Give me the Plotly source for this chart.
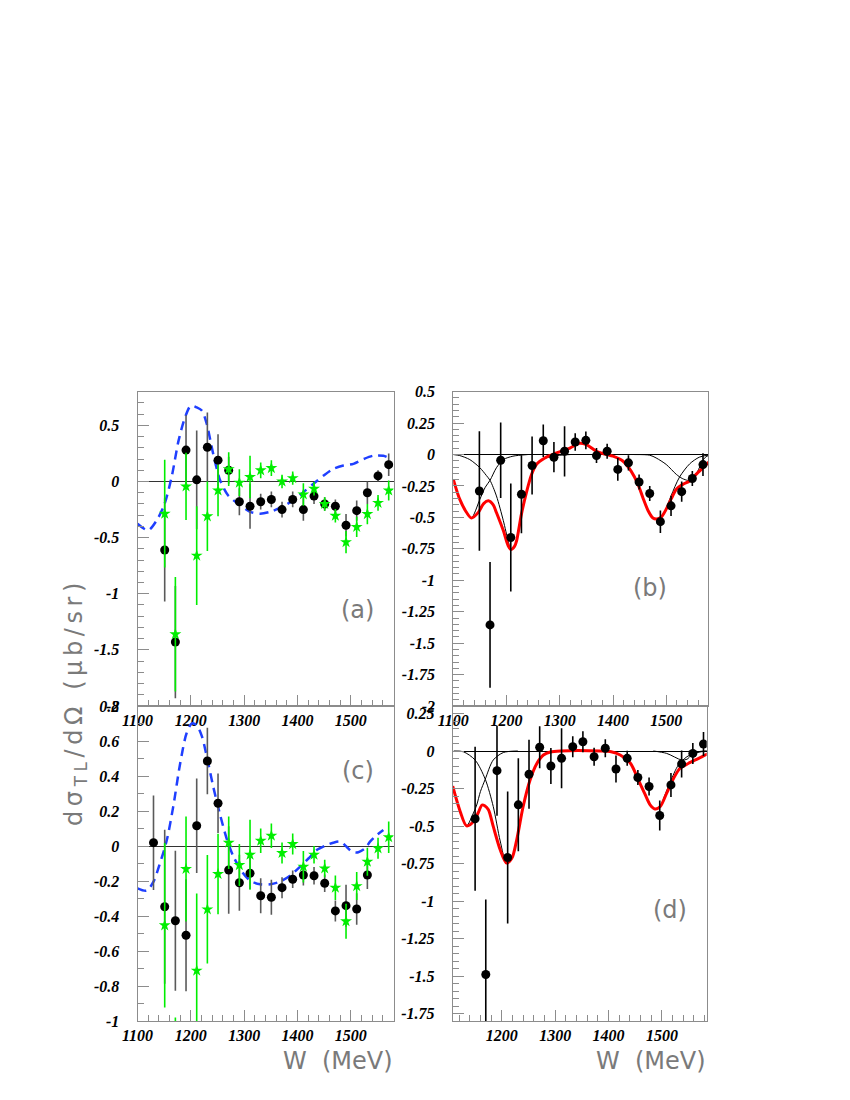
import plotly.graph_objects as go

# ---------------- data ----------------
# panel (a)
A_W = [1151, 1171, 1191, 1211, 1231, 1251, 1271, 1291, 1311, 1331, 1351,
       1371, 1391, 1411, 1431, 1451, 1471, 1491, 1511, 1531, 1551, 1571]
A_BLACK = [-0.61, -1.43, 0.28, 0.015, 0.305, 0.19, 0.10, -0.18, -0.22, -0.18, -0.16,
           -0.25, -0.16, -0.25, -0.13, -0.20, -0.22, -0.39, -0.26, -0.10, 0.05, 0.15]
A_BLACK_ERR = [0.46, 0.50, 0.31, 0.44, 0.31, 0.23, 0.12, 0.12, 0.20, 0.07, 0.07,
               0.07, 0.07, 0.10, 0.07, 0.06, 0.06, 0.10, 0.09, 0.10, 0.05, 0.10]
A_GREEN = [-0.287, -1.36, -0.044, -0.66, -0.31, -0.08, 0.11, -0.01, 0.04, 0.10, 0.12,
           0.0, 0.03, -0.115, -0.065, -0.20, -0.305, -0.54, -0.405, -0.29, -0.19, -0.08]
A_GREEN_ERR = [0.48, 0.51, 0.30, 0.44, 0.31, 0.23, 0.15, 0.12, 0.19, 0.07, 0.07,
               0.06, 0.06, 0.10, 0.06, 0.06, 0.06, 0.10, 0.09, 0.09, 0.07, 0.09]
A_CURVE_W = [1100, 1120, 1136, 1150, 1164, 1177, 1189, 1200, 1211, 1221, 1230, 1242,
             1255, 1270, 1292, 1311, 1330, 1349, 1370, 1392, 1411, 1430, 1449, 1467,
             1486, 1505, 1524, 1542, 1561, 1567]
A_CURVE = [-0.376, -0.435, -0.346, -0.21, 0.04, 0.364, 0.57, 0.675, 0.66, 0.63, 0.51, 0.245,
           0.01, -0.124, -0.21, -0.27, -0.287, -0.27, -0.228, -0.169, -0.095, -0.02, 0.053, 0.112,
           0.142, 0.157, 0.20, 0.23, 0.23, 0.22]

# panel (b)
B_W = [1149, 1169, 1189, 1208, 1228, 1248, 1269, 1289, 1309, 1329, 1349,
       1369, 1389, 1409, 1429, 1449, 1469, 1489, 1509, 1529, 1549, 1569]
B_VAL = [-0.29, -1.355, -0.045, -0.66, -0.316, -0.087, 0.11, -0.021, 0.026, 0.10, 0.113,
         -0.008, 0.026, -0.118, -0.066, -0.218, -0.31, -0.534, -0.408, -0.295, -0.19, -0.08]
B_ERR = [0.475, 0.50, 0.30, 0.43, 0.31, 0.23, 0.13, 0.12, 0.20, 0.07, 0.07,
         0.06, 0.06, 0.09, 0.06, 0.06, 0.06, 0.09, 0.08, 0.08, 0.06, 0.09]
B_FIT_W = [1100, 1112, 1125, 1134, 1147, 1157, 1166, 1175, 1181, 1194, 1203, 1208, 1215,
           1219, 1228, 1238, 1247, 1256, 1272, 1294, 1319, 1337, 1350, 1369, 1387, 1400,
           1419, 1434, 1447, 1456, 1466, 1475, 1482, 1491, 1500, 1509, 1519, 1531, 1544,
           1556, 1569, 1580]
B_FIT = [-0.197, -0.355, -0.461, -0.505, -0.46, -0.39, -0.368, -0.40, -0.461, -0.605, -0.724,
         -0.755, -0.73, -0.684, -0.474, -0.29, -0.158, -0.079, -0.027, 0.013, 0.052, 0.09,
         0.079, 0.026, 0.002, -0.013, -0.053, -0.132, -0.237, -0.342, -0.447, -0.505, -0.513,
         -0.495, -0.434, -0.355, -0.276, -0.237, -0.21, -0.158, -0.105, -0.06]
B_R1_W = [1100, 1112, 1125, 1134, 1150, 1160, 1169, 1181, 1194, 1212, 1240]
B_R1 = [-0.195, -0.35, -0.46, -0.505, -0.355, -0.26, -0.205, -0.105, -0.04, -0.013, 0.0]
B_R2_W = [1100, 1112, 1131, 1150, 1162, 1169, 1181, 1194, 1203, 1208, 1215, 1219, 1228,
          1238, 1247, 1256, 1272, 1295, 1320]
B_R2 = [0.0, -0.008, -0.04, -0.105, -0.166, -0.205, -0.329, -0.526, -0.684, -0.75, -0.73,
        -0.684, -0.474, -0.29, -0.158, -0.079, -0.03, -0.008, 0.0]
B_R3_W = [1380, 1400, 1419, 1434, 1447, 1456, 1466, 1475, 1483, 1490, 1497, 1509, 1525,
          1544, 1562, 1580]
B_R3 = [0.0, -0.01, -0.05, -0.13, -0.237, -0.342, -0.447, -0.505, -0.52, -0.51, -0.461,
        -0.329, -0.179, -0.074, -0.021, -0.003]
B_R4_W = [1440, 1469, 1481, 1500, 1519, 1530, 1541, 1550, 1556, 1565, 1572, 1580]
B_R4 = [0.0, -0.005, -0.027, -0.079, -0.158, -0.19, -0.205, -0.19, -0.158, -0.08, -0.027, -0.005]

# panel (c)
C_W_BLACK = [1130, 1151, 1171, 1191, 1211, 1231, 1251, 1271, 1291, 1311, 1331,
             1351, 1371, 1391, 1411, 1431, 1451, 1471, 1491, 1511, 1531]
C_BLACK = [0.019, -0.347, -0.427, -0.51, 0.116, 0.486, 0.244, -0.137, -0.21, -0.156, -0.284,
           -0.293, -0.238, -0.19, -0.166, -0.17, -0.213, -0.371, -0.341, -0.36, -0.166]
C_BLACK_ERR = [0.27, 0.44, 0.40, 0.32, 0.27, 0.19, 0.17, 0.25, 0.16, 0.09, 0.10,
               0.10, 0.06, 0.05, 0.06, 0.05, 0.05, 0.06, 0.12, 0.09, 0.08]
C_W_GREEN = [1151, 1171, 1191, 1211, 1231, 1251, 1271, 1291, 1311, 1331, 1351,
             1371, 1391, 1411, 1431, 1451, 1471, 1491, 1511, 1531, 1551, 1571]
C_GREEN = [-0.453, -1.5, -0.131, -0.712, -0.362, -0.16, 0.019, -0.109, -0.05, 0.03, 0.059,
           -0.04, 0.011, -0.118, -0.05, -0.128, -0.238, -0.43, -0.229, -0.09, -0.013, 0.05]
C_GREEN_ERR = [0.47, 0.52, 0.30, 0.44, 0.31, 0.23, 0.15, 0.12, 0.20, 0.07, 0.07,
               0.06, 0.06, 0.09, 0.05, 0.05, 0.07, 0.10, 0.08, 0.08, 0.06, 0.09]
C_CURVE_W = [1100, 1117, 1130, 1142, 1155, 1167, 1180, 1192, 1202, 1211, 1221, 1230, 1242,
             1255, 1267, 1280, 1296, 1311, 1330, 1349, 1367, 1386, 1405, 1421, 1436, 1455,
             1467, 1480, 1492, 1502, 1514, 1527, 1536, 1549, 1561]
C_CURVE = [-0.242, -0.255, -0.204, -0.10, 0.034, 0.225, 0.472, 0.644, 0.70, 0.69, 0.625, 0.51,
           0.339, 0.177, 0.044, -0.061, -0.147, -0.198, -0.219, -0.219, -0.204, -0.17, -0.118,
           -0.07, -0.023, 0.006, 0.019, 0.025, -0.004, -0.032, -0.036, -0.013, 0.025, 0.063, 0.091]

# panel (d)
D_W = [1150, 1170, 1191, 1211, 1231, 1251, 1271, 1292, 1312, 1333, 1352,
       1373, 1394, 1414, 1435, 1455, 1476, 1496, 1517, 1537, 1558, 1578]
D_VAL = [-0.452, -1.49, -0.131, -0.71, -0.359, -0.155, 0.025, -0.10, -0.049, 0.029, 0.062,
         -0.038, 0.018, -0.12, -0.049, -0.177, -0.237, -0.43, -0.226, -0.086, -0.016, 0.047]
D_ERR = [0.48, 0.50, 0.30, 0.44, 0.31, 0.23, 0.14, 0.12, 0.20, 0.07, 0.07,
         0.06, 0.06, 0.09, 0.05, 0.05, 0.06, 0.10, 0.08, 0.09, 0.07, 0.08]
D_FIT_W = [1108, 1122, 1134, 1147, 1156, 1163, 1168, 1175, 1184, 1197, 1209, 1219, 1228,
           1240, 1253, 1266, 1278, 1291, 1310, 1384, 1405, 1422, 1441, 1456, 1469, 1478,
           1487, 1497, 1509, 1522, 1534, 1550, 1569, 1587]
D_FIT = [-0.235, -0.403, -0.499, -0.47, -0.41, -0.36, -0.365, -0.392, -0.503, -0.658, -0.747,
         -0.714, -0.592, -0.37, -0.193, -0.082, -0.027, -0.007, 0.0, 0.0, -0.005, -0.027,
         -0.082, -0.193, -0.293, -0.359, -0.386, -0.37, -0.281, -0.182, -0.115, -0.082,
         -0.049, -0.016]
D_R1_W = [1108, 1122, 1134, 1146, 1153, 1160, 1169, 1184, 1203, 1230]
D_R1 = [-0.23, -0.40, -0.499, -0.42, -0.36, -0.27, -0.188, -0.06, -0.01, 0.0]
D_R2_W = [1110, 1128, 1150, 1169, 1184, 1197, 1209, 1219, 1228, 1240, 1253, 1266, 1278, 1291, 1310]
D_R2 = [0.0, -0.005, -0.06, -0.188, -0.37, -0.6, -0.747, -0.714, -0.592, -0.37, -0.193,
        -0.082, -0.027, -0.007, 0.0]
D_R3_W = [1384, 1405, 1422, 1441, 1456, 1469, 1478, 1487, 1497, 1505, 1516, 1531, 1547, 1566, 1587]
D_R3 = [0.0, -0.005, -0.027, -0.082, -0.193, -0.293, -0.359, -0.386, -0.37, -0.30, -0.204,
        -0.093, -0.038, -0.01, 0.0]
D_R4_W = [1484, 1509, 1537, 1547, 1556, 1571, 1587]
D_R4 = [0.0, -0.016, -0.06, -0.055, -0.027, -0.003, 0.0]

# tick labels
X_TICKS = [1100, 1200, 1300, 1400, 1500]
X_TEXT = ["1100", "1200", "1300", "1400", "1500"]
YA_TICKS = [-2, -1.5, -1, -0.5, 0, 0.5]
YA_TEXT = ["-2", "-1.5", "-1", "-0.5", "0", "0.5"]
YB_TICKS = [-2, -1.75, -1.5, -1.25, -1, -0.75, -0.5, -0.25, 0, 0.25, 0.5]
YB_TEXT = ["-2", "-1.75", "-1.5", "-1.25", "-1", "-0.75", "-0.5", "-0.25", "0", "0.25", "0.5"]
YC_TICKS = [-1, -0.8, -0.6, -0.4, -0.2, 0, 0.2, 0.4, 0.6, 0.8]
YC_TEXT = ["-1", "-0.8", "-0.6", "-0.4", "-0.2", "0", "0.2", "0.4", "0.6", "0.8"]
YD_TICKS = [-1.75, -1.5, -1.25, -1, -0.75, -0.5, -0.25, 0, 0.25]
YD_TEXT = ["-1.75", "-1.5", "-1.25", "-1", "-0.75", "-0.5", "-0.25", "0", "0.25"]

# ---------------- figure ----------------
W_PX, H_PX = 850, 1100
OFF = 8  # page body margin in the browser
BLUE = "#1f3fff"
GREEN = "#00ee00"
RED = "#ff0000"
FRAME = "#8c8c8c"


def fx(px):
    return (px - OFF) / W_PX


def fy(py):
    return 1 - (py - OFF) / H_PX


fig = go.Figure()


def curve(x, y, ax, color, width, dash=None):
    fig.add_trace(go.Scatter(x=x, y=y, mode="lines", xaxis="x" + ax, yaxis="y" + ax,
                             line=dict(color=color, width=width, dash=dash, shape="spline",
                                       smoothing=0.8),
                             hoverinfo="skip", showlegend=False))


def points(x, y, err, ax, color, ecolor, symbol, size):
    fig.add_trace(go.Scatter(x=x, y=y, mode="markers", xaxis="x" + ax, yaxis="y" + ax,
                             marker=dict(color=color, size=size, symbol=symbol,
                                         line=dict(width=0)),
                             error_y=dict(type="data", array=err, visible=True,
                                          color=ecolor, thickness=1.6, width=0),
                             showlegend=False))


# (a)
curve(A_CURVE_W, A_CURVE, "", BLUE, 2.5, "9px,6px")
points(A_W, A_BLACK, A_BLACK_ERR, "", "black", "#5a5a5a", "circle", 9)
points(A_W, A_GREEN, A_GREEN_ERR, "", GREEN, GREEN, "star", 9)
# (b)
for xs, ys in [(B_R1_W, B_R1), (B_R2_W, B_R2), (B_R3_W, B_R3), (B_R4_W, B_R4)]:
    curve(xs, ys, "2", "black", 1)
curve(B_FIT_W, B_FIT, "2", RED, 3)
points(B_W, B_VAL, B_ERR, "2", "black", "black", "circle", 9)
# (c)
curve(C_CURVE_W, C_CURVE, "3", BLUE, 2.5, "9px,6px")
points(C_W_BLACK, C_BLACK, C_BLACK_ERR, "3", "black", "#5a5a5a", "circle", 9)
points(C_W_GREEN, C_GREEN, C_GREEN_ERR, "3", GREEN, GREEN, "star", 9)
# (d)
for xs, ys in [(D_R1_W, D_R1), (D_R2_W, D_R2), (D_R3_W, D_R3), (D_R4_W, D_R4)]:
    curve(xs, ys, "4", "black", 1)
curve(D_FIT_W, D_FIT, "4", RED, 3)
points(D_W, D_VAL, D_ERR, "4", "black", "black", "circle", 9)

tickfont = dict(family="Liberation Serif", size=16, color="black", weight="bold", style="italic")


def xaxis(domain, rng, anchor):
    return dict(domain=domain, range=rng, anchor=anchor, showgrid=False, zeroline=False,
                automargin=False, ticklabeloverflow="allow",
                showline=True, mirror=True, linecolor=FRAME, linewidth=1,
                ticks="inside", ticklen=11, tickcolor=FRAME, tickwidth=1,
                tickmode="array", tickvals=X_TICKS, ticktext=X_TEXT,
                tickfont=tickfont, ticklabelstandoff=0,
                minor=dict(ticks="inside", ticklen=6, tickcolor=FRAME, tickwidth=1,
                           tickmode="linear", tick0=1100, dtick=20))


def yaxis(domain, rng, anchor, tv, tt, minor_dtick, zcolor):
    return dict(domain=domain, range=rng, anchor=anchor, showgrid=False,
                automargin=False, ticklabeloverflow="allow",
                zeroline=True, zerolinecolor=zcolor, zerolinewidth=1,
                showline=True, mirror=True, linecolor=FRAME, linewidth=1,
                ticks="inside", ticklen=11, tickcolor=FRAME, tickwidth=1,
                tickmode="array", tickvals=tv, ticktext=tt,
                tickfont=tickfont, ticklabelstandoff=14,
                minor=dict(ticks="inside", ticklen=6, tickcolor=FRAME, tickwidth=1,
                           tickmode="linear", tick0=0, dtick=minor_dtick))


XL = [fx(137.5), fx(393.5)]
XR_B = [fx(453.3), fx(708.3)]
XR_D = [fx(452.7), fx(706.7)]
Y_TOP = [fy(706), fy(391.7)]
Y_BOT = [fy(1021), fy(706)]

fig.update_layout(
    width=W_PX, height=H_PX, autosize=False,
    margin=dict(l=0, r=0, t=0, b=0, pad=0),
    paper_bgcolor="white", plot_bgcolor="rgba(0,0,0,0)",
    showlegend=False,
    xaxis=xaxis(XL, [1100, 1580], "y"),
    yaxis=yaxis(Y_TOP, [-2, 0.8], "x", YA_TICKS, YA_TEXT, 0.1, "#333333"),
    xaxis2=xaxis(XR_B, [1100, 1579], "y2"),
    yaxis2=yaxis(Y_TOP, [-2, 0.5], "x2", YB_TICKS, YB_TEXT, 0.05, "black"),
    xaxis3=xaxis(XL, [1100, 1580], "y3"),
    yaxis3=yaxis(Y_BOT, [-1, 0.8], "x3", YC_TICKS, YC_TEXT, 0.1, "#333333"),
    xaxis4=xaxis(XR_D, [1108, 1584], "y4"),
    yaxis4=yaxis(Y_BOT, [-1.8, 0.3], "x4", YD_TICKS, YD_TEXT, 0.05, "black"),
)

CLEAR = "rgba(0,0,0,0)"
label_font = dict(family="DejaVu Sans", size=24, color="#7a7a7a")
for txt, xp, yp in [("(a)", 357.5, 610), ("(b)", 650, 588), ("(c)", 357.5, 771), ("(d)", 670, 910)]:
    fig.add_annotation(text=txt, x=fx(xp), y=fy(yp), xref="paper", yref="paper",
                       showarrow=False, font=label_font, xanchor="center", yanchor="middle",
                       bgcolor=CLEAR, borderpad=0)

title_font = dict(family="DejaVu Sans", size=24, color="#7a7a7a")
fig.add_annotation(text='<span style="letter-spacing:4.6px">dσ<sub>TL</sub>/dΩ (μb/sr)</span>',
                   x=fx(75), y=fy(702),
                   xref="paper", yref="paper", showarrow=False, textangle=-90,
                   font=title_font, xanchor="center", yanchor="middle",
                   bgcolor=CLEAR, borderpad=0)
for xr in [394, 707]:
    fig.add_annotation(text="W  (MeV)", x=fx(xr), y=fy(1046),
                       xref="paper", yref="paper", showarrow=False, font=title_font,
                       xanchor="right", yanchor="top", bgcolor=CLEAR, borderpad=0)

fig.write_html("out.html")
